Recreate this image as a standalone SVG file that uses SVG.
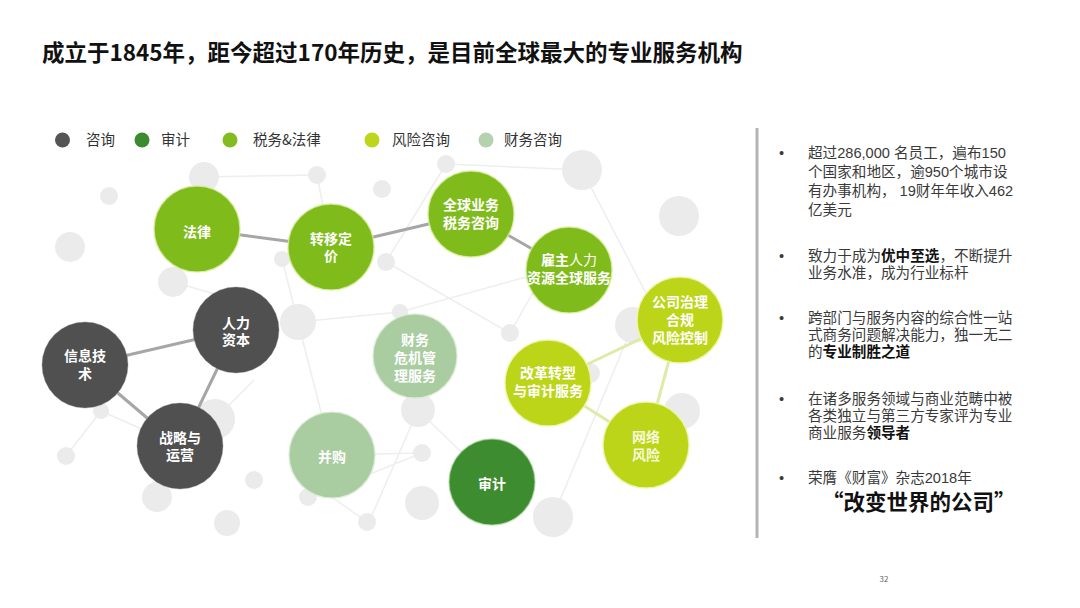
<svg xmlns="http://www.w3.org/2000/svg" width="1080" height="608" viewBox="0 0 1080 608">
<style>
.t{font-family:"Noto Sans CJK SC","Liberation Sans",sans-serif}
.title{font-size:22.5px;font-weight:bold;fill:#111}
.lg{font-size:14.5px;fill:#333}
.nt{font-family:"Liberation Sans","Noto Sans CJK SC",sans-serif;font-size:14px;font-weight:bold;fill:#fff;text-anchor:middle}
.nr{fill:#f6f9dc}
.bt{font-family:"Liberation Sans","Noto Sans CJK SC",sans-serif;font-size:14.6px;fill:#3a3a3a}
.b{font-weight:bold;fill:#111}
.bg{fill:#ebebeb}
.bgl{stroke:#eeeeee;stroke-width:1.5;fill:none}
.dk{stroke:#a6a6a6;stroke-width:3;fill:none}
.lt{stroke:#dfeaa9;stroke-width:3;fill:none}
.c1{fill:#505050;stroke:#8a8a8a;stroke-width:1;stroke-opacity:.4}
.c2{fill:#3d8c30;stroke:#a8d49a;stroke-width:1.5;stroke-opacity:.6}
.c3{fill:#80bb1c;stroke:#d8ee9e;stroke-width:1.5;stroke-opacity:.8}
.c4{fill:#bcd519;stroke:#eef6a8;stroke-width:1.5;stroke-opacity:.9}
.c5{fill:#a9cca0;stroke:#dcebd6;stroke-width:1.5;stroke-opacity:.8}
</style>
<rect width="1080" height="608" fill="#ffffff"/>

<text class="t title" x="42" y="60.5">成立于1845年，距今超过170年历史，是目前全球最大的专业服务机构</text>

<g id="legend">
<circle cx="62.5" cy="140" r="7.5" fill="#555555"/>
<text class="t lg" x="86" y="145">咨询</text>
<circle cx="142" cy="140" r="7.5" fill="#3b8c2f"/>
<text class="t lg" x="161" y="145">审计</text>
<circle cx="230" cy="140" r="7.5" fill="#82bc1f"/>
<text class="t lg" x="253" y="145">税务&amp;法律</text>
<circle cx="372" cy="140" r="7.5" fill="#bed51b"/>
<text class="t lg" x="392" y="145">风险咨询</text>
<circle cx="486" cy="140" r="7.5" fill="#b3d2ad"/>
<text class="t lg" x="504" y="145">财务咨询</text>
</g>

<g id="background">
<line class="bgl" x1="204" y1="177" x2="317" y2="175"/>
<line class="bgl" x1="317" y1="175" x2="331" y2="247"/>
<line class="bgl" x1="446" y1="164" x2="582" y2="170"/>
<line class="bgl" x1="446" y1="164" x2="386" y2="262"/>
<line class="bgl" x1="582" y1="170" x2="660" y2="320"/>
<line class="bgl" x1="173" y1="282" x2="236" y2="300"/>
<line class="bgl" x1="298" y1="322" x2="400" y2="312"/>
<line class="bgl" x1="400" y1="312" x2="569" y2="265"/>
<line class="bgl" x1="386" y1="262" x2="510" y2="333"/>
<line class="bgl" x1="510" y1="333" x2="540" y2="280"/>
<line class="bgl" x1="298" y1="322" x2="332" y2="455"/>
<line class="bgl" x1="101" y1="411" x2="66" y2="456"/>
<line class="bgl" x1="101" y1="411" x2="180" y2="446"/>
<line class="bgl" x1="215" y1="419" x2="254" y2="380"/>
<line class="bgl" x1="332" y1="455" x2="422" y2="453"/>
<line class="bgl" x1="360" y1="478" x2="422" y2="453"/>
<line class="bgl" x1="418" y1="410" x2="370" y2="520"/>
<line class="bgl" x1="418" y1="410" x2="492" y2="482"/>
<line class="bgl" x1="367" y1="522" x2="332" y2="497"/>
<line class="bgl" x1="553" y1="517" x2="633" y2="325"/>
<line class="bgl" x1="298" y1="322" x2="282" y2="259"/>
<circle class="bg" cx="109" cy="196" r="9"/>
<circle class="bg" cx="70" cy="247" r="15"/>
<circle class="bg" cx="204" cy="177" r="15"/>
<circle class="bg" cx="317" cy="175" r="9"/>
<circle class="bg" cx="382" cy="189" r="9"/>
<circle class="bg" cx="173" cy="282" r="15"/>
<circle class="bg" cx="282" cy="259" r="8"/>
<circle class="bg" cx="386" cy="262" r="9"/>
<circle class="bg" cx="298" cy="322" r="18"/>
<circle class="bg" cx="446" cy="164" r="9"/>
<circle class="bg" cx="582" cy="170" r="20"/>
<circle class="bg" cx="679" cy="216" r="20"/>
<circle class="bg" cx="400" cy="312" r="8"/>
<circle class="bg" cx="510" cy="333" r="9"/>
<circle class="bg" cx="633" cy="325" r="18"/>
<circle class="bg" cx="101" cy="411" r="8"/>
<circle class="bg" cx="66" cy="456" r="9"/>
<circle class="bg" cx="215" cy="419" r="20"/>
<circle class="bg" cx="157" cy="497" r="15"/>
<circle class="bg" cx="254" cy="480" r="9"/>
<circle class="bg" cx="227" cy="523" r="13"/>
<circle class="bg" cx="308" cy="497" r="9"/>
<circle class="bg" cx="367" cy="522" r="9"/>
<circle class="bg" cx="418" cy="410" r="17"/>
<circle class="bg" cx="422" cy="453" r="9"/>
<circle class="bg" cx="422" cy="503" r="17"/>
<circle class="bg" cx="553" cy="517" r="20"/>
<circle class="bg" cx="682" cy="411" r="18"/>
<circle class="bg" cx="590" cy="373" r="10"/>
</g>

<g id="connectors">
<line class="dk" x1="197" y1="229" x2="331" y2="247"/>
<line class="dk" x1="331" y1="247" x2="471" y2="214"/>
<line class="dk" x1="471" y1="214" x2="569" y2="270"/>
<line class="dk" x1="236" y1="330" x2="85" y2="365"/>
<line class="dk" x1="236" y1="330" x2="180" y2="446"/>
<line class="dk" x1="85" y1="365" x2="180" y2="446"/>
<line class="lt" x1="548" y1="383" x2="680" y2="320"/>
<line class="lt" x1="680" y1="320" x2="646" y2="445"/>
<line class="lt" x1="548" y1="383" x2="646" y2="445"/>
</g>

<g id="n-falv"><circle class="c3" cx="197" cy="229" r="43"/><text class="nt" x="197" y="237">法律</text></g>
<g id="n-zhuanyi"><circle class="c3" cx="331" cy="247" r="43"/><text class="nt" x="331" y="243.5">转移定</text><text class="nt" x="331" y="261">价</text></g>
<g id="n-quanqiu"><circle class="c3" cx="471" cy="214" r="43"/><text class="nt" x="471" y="210">全球业务</text><text class="nt" x="471" y="227.5">税务咨询</text></g>
<g id="n-guzhu"><circle class="c3" cx="569" cy="270" r="43"/><text class="nt" x="569" y="265">雇主<tspan font-weight="normal">人力</tspan></text><text class="nt" x="569" y="283">资源全球服务</text></g>
<g id="n-gongsi"><circle class="c4" cx="680" cy="320" r="43"/><text class="nt" x="680" y="307">公司治理</text><text class="nt" x="680" y="325">合规</text><text class="nt" x="680" y="342.5">风险控制</text></g>
<g id="n-renli"><circle class="c1" cx="236" cy="330" r="43"/><text class="nt" x="236" y="327.5" font-weight="normal">人力</text><text class="nt" x="236" y="345">资本</text></g>
<g id="n-xinxi"><circle class="c1" cx="85" cy="365" r="43"/><text class="nt" x="85" y="361">信息技</text><text class="nt" x="85" y="378.5">术</text></g>
<g id="n-zhanlue"><circle class="c1" cx="180" cy="446" r="43"/><text class="nt" x="180" y="442.5">战略与</text><text class="nt" x="180" y="460">运营</text></g>
<g id="n-binggou"><circle class="c5" cx="332" cy="455" r="43"/><text class="nt" x="332" y="462">并购</text></g>
<g id="n-caiwu"><circle class="c5" cx="415" cy="356" r="42"/><text class="nt" x="415" y="345">财务</text><text class="nt" x="415" y="363">危机管</text><text class="nt" x="415" y="380.5">理服务</text></g>
<g id="n-gaige"><circle class="c4" cx="548" cy="383" r="43"/><text class="nt" x="548" y="378">改革转型</text><text class="nt" x="548" y="396">与审计服务</text></g>
<g id="n-wangluo"><circle class="c4" cx="646" cy="445" r="43"/><text class="nt nr" x="646" y="442">网络</text><text class="nt nr" x="646" y="460">风险</text></g>
<g id="n-shenji"><circle class="c2" cx="492" cy="482" r="43"/><text class="nt" x="492" y="489">审计</text></g>

<line x1="757" y1="128" x2="757" y2="538" stroke="#b4b4b4" stroke-width="3"/>

<g id="facts">
<text class="bt" x="779" y="157.5">•</text>
<text class="bt" x="808" y="157.5">超过286,000 名员工，遍布150</text>
<text class="bt" x="808" y="176.5">个国家和地区，逾950个城市设</text>
<text class="bt" x="808" y="195.5">有办事机构， 19财年年收入462</text>
<text class="bt" x="808" y="214.5">亿美元</text>

<text class="bt" x="779" y="261">•</text>
<text class="bt" x="808" y="261">致力于成为<tspan class="b">优中至选</tspan>，不断提升</text>
<text class="bt" x="808" y="278">业务水准，成为行业标杆</text>

<text class="bt" x="779" y="323">•</text>
<text class="bt" x="808" y="323">跨部门与服务内容的综合性一站</text>
<text class="bt" x="808" y="340">式商务问题解决能力，独一无二</text>
<text class="bt" x="808" y="357">的<tspan class="b">专业制胜之道</tspan></text>

<text class="bt" x="779" y="403.5">•</text>
<text class="bt" x="808" y="403.5">在诸多服务领域与商业范畴中被</text>
<text class="bt" x="808" y="420.5">各类独立与第三方专家评为专业</text>
<text class="bt" x="808" y="437.5">商业服务<tspan class="b">领导者</tspan></text>

<text class="bt" x="779" y="482.5">•</text>
<text class="bt" x="808" y="482.5">荣膺《财富》杂志2018年</text>
<text class="t" x="822" y="510" font-size="21.5" font-weight="bold" fill="#111">“改变世界的公司”</text>
</g>

<text class="t" x="884" y="582" font-size="8" fill="#666" text-anchor="middle">32</text>
</svg>
